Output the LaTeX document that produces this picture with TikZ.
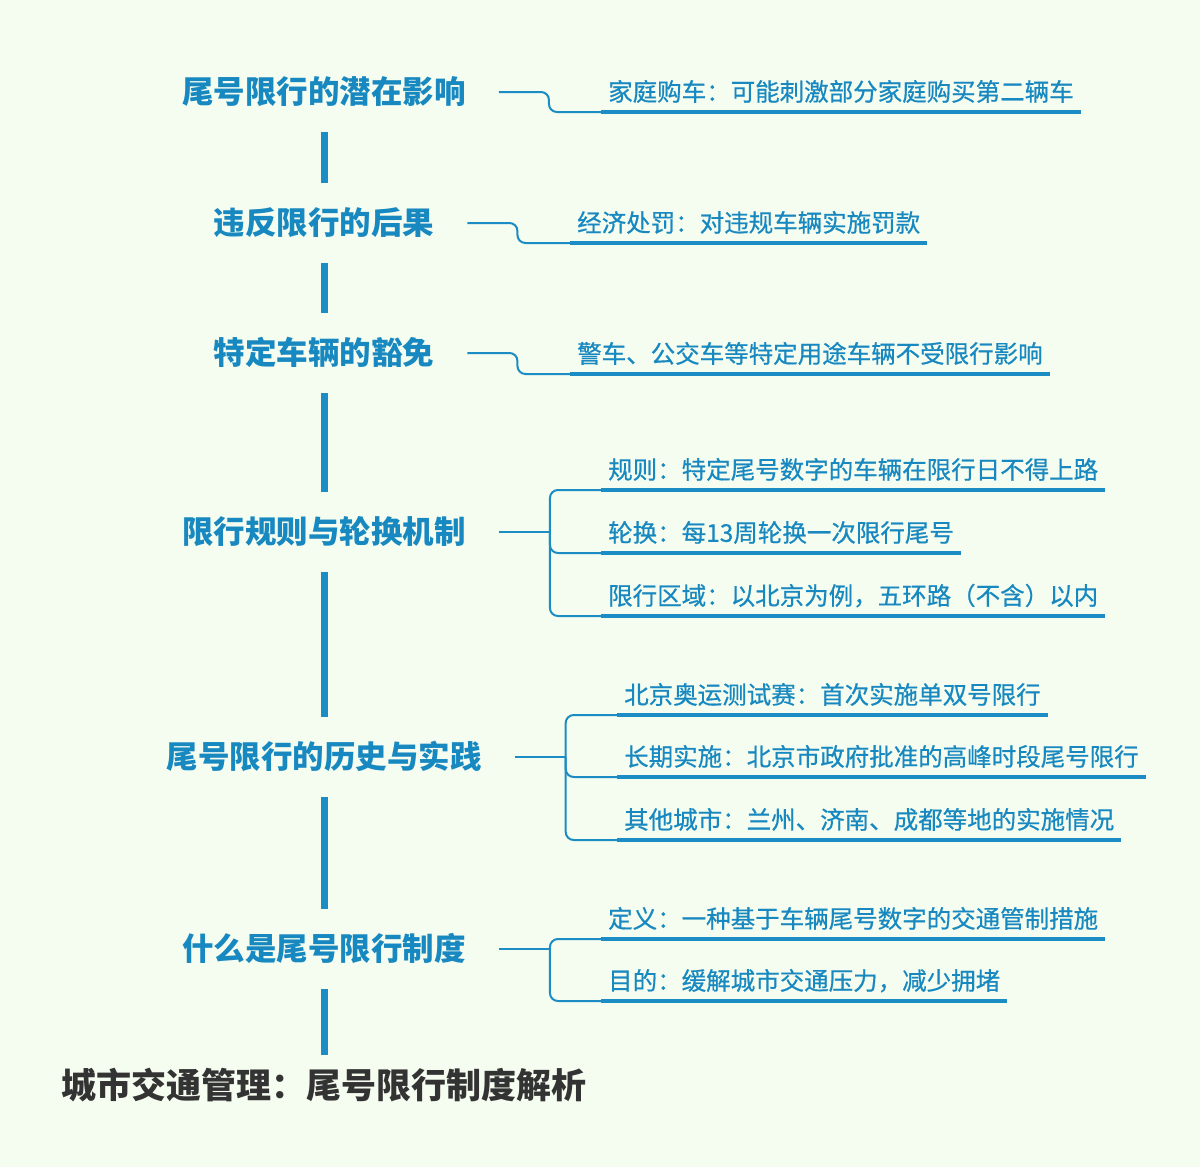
\documentclass[tikz,border=0pt]{standalone}
\usepackage{fontspec}
\newfontfamily\cjk{Noto Sans CJK SC}
\newfontfamily\cjkm{Noto Sans CJK SC}[FakeBold=0.6]
\usetikzlibrary{calc}
\definecolor{bgc}{HTML}{F5FDF0}
\definecolor{blu}{HTML}{1888C0}
\definecolor{lnc}{HTML}{1B8CC4}
\definecolor{ttl}{HTML}{333333}
\tikzset{
  head/.style={font=\cjk\bfseries\fontsize{31.5}{36}\selectfont, text=blu,
    text height=27.5pt, text depth=4pt, inner xsep=33pt, inner ysep=24.25pt},
  ttlnode/.style={font=\cjk\bfseries\fontsize{35}{40}\selectfont, text=ttl,
    text height=30.8pt, text depth=4.2pt, inner xsep=0pt, inner ysep=12.5pt},
  item/.style={font=\cjkm\fontsize{24.5}{28}\selectfont, text=blu, anchor=south west,
    text height=21.5pt, text depth=11pt, inner xsep=7pt, inner ysep=0pt},
  trunk/.style={draw=lnc, line width=7pt},
  branch/.style={draw=lnc, line width=2pt, rounded corners=8pt},
  uline/.style={draw=lnc, line width=3.2pt},
}
\begin{document}
\begin{tikzpicture}[x=1pt,y=-1pt]
\useasboundingbox (0,0) rectangle (1200,1167);
\fill[bgc] (0,0) rectangle (1200,1167);

% headings
\node[head] (h1) at (324,92) {尾号限行的潜在影响};
\node[head] (h2) at (324,223) {违反限行的后果};
\node[head] (h3) at (324,353) {特定车辆的豁免};
\node[head] (h4) at (324,532) {限行规则与轮换机制};
\node[head] (h5) at (324,757) {尾号限行的历史与实践};
\node[head] (h6) at (324,949) {什么是尾号限行制度};
\node[ttlnode] (t) at (324,1085) {城市交通管理：尾号限行制度解析};

% trunk
\draw[trunk] (h1.south) -- (h2.north);
\draw[trunk] (h2.south) -- (h3.north);
\draw[trunk] (h3.south) -- (h4.north);
\draw[trunk] (h4.south) -- (h5.north);
\draw[trunk] (h5.south) -- (h6.north);
\draw[trunk] (h6.south) -- (t.north);

% items
\node[item] (i11) at (601,112) {家庭购车：可能刺激部分家庭购买第二辆车};
\node[item] (i21) at (570,243) {经济处罚：对违规车辆实施罚款};
\node[item] (i31) at (570,374) {警车、公交车等特定用途车辆不受限行影响};
\node[item] (i41) at (601,490) {规则：特定尾号数字的车辆在限行日不得上路};
\node[item] (i42) at (601,553) {轮换：每13周轮换一次限行尾号};
\node[item] (i43) at (601,616) {限行区域：以北京为例，五环路（不含）以内};
\node[item] (i51) at (617,715) {北京奥运测试赛：首次实施单双号限行};
\node[item] (i52) at (617,777) {长期实施：北京市政府批准的高峰时段尾号限行};
\node[item] (i53) at (617,840) {其他城市：兰州、济南、成都等地的实施情况};
\node[item] (i61) at (601,939) {定义：一种基于车辆尾号数字的交通管制措施};
\node[item] (i62) at (601,1001) {目的：缓解城市交通压力，减少拥堵};

% underlines
\foreach \n in {i11,i21,i31,i41,i42,i43,i51,i52,i53,i61,i62}
  \draw[uline] (\n.south west) -- (\n.south east);

% single-child branches
\draw[branch] (h1.east) -- ++(50,0) |- (i11.south west);
\draw[branch] (h2.east) -- ++(50,0) |- (i21.south west);
\draw[branch] (h3.east) -- ++(50,0) |- (i31.south west);

% multi-child branches
\coordinate (j4) at ($(h4.east)+(51,0)$);
\draw[branch] (h4.east) -- (j4);
\foreach \n in {i41,i42,i43} \draw[branch] (j4) |- (\n.south west);

\coordinate (j5) at ($(h5.east)+(51,0)$);
\draw[branch] (h5.east) -- (j5);
\foreach \n in {i51,i52,i53} \draw[branch] (j5) |- (\n.south west);

\coordinate (j6) at ($(h6.east)+(51,0)$);
\draw[branch] (h6.east) -- (j6);
\foreach \n in {i61,i62} \draw[branch] (j6) |- (\n.south west);
\end{tikzpicture}
\end{document}
